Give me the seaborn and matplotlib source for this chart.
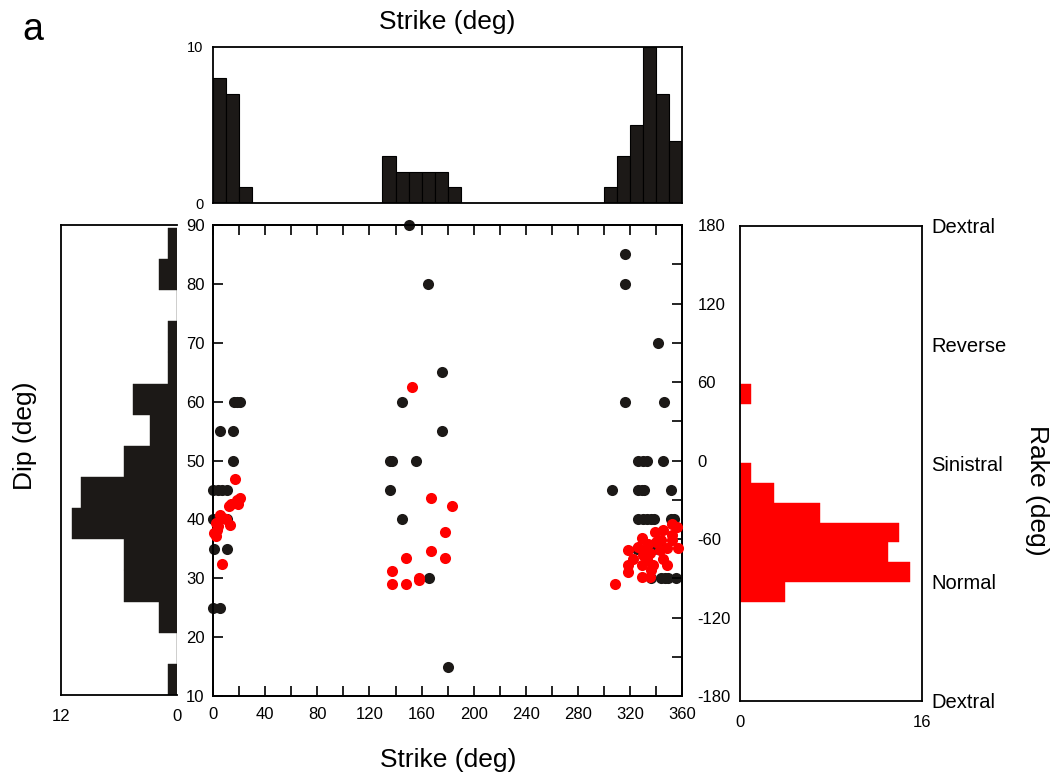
import numpy as np
import matplotlib
matplotlib.use("Agg")
import matplotlib.pyplot as plt
import seaborn as sns
from matplotlib.ticker import MultipleLocator

sns.set_theme(style="white")
plt.rcParams['font.family'] = ['Liberation Sans', 'DejaVu Sans']
plt.rcParams['axes.edgecolor'] = 'black'
plt.rcParams['axes.linewidth'] = 1.3
plt.rcParams['text.color'] = 'black'
plt.rcParams['xtick.color'] = 'black'
plt.rcParams['ytick.color'] = 'black'
plt.rcParams['axes.labelcolor'] = 'black'
plt.rcParams['axes.unicode_minus'] = False

# ---------------- data ----------------
# black points: dip vs strike
dip_strike = [16, 18, 21, 5, 15, 15, 0, 3.5, 7, 10.5, 0, 11, 1, 10.5, 0, 5,
              150, 165, 175.5, 145, 175.5, 135.5, 155.5, 137, 135.5, 145, 165.5, 180.5,
              316, 316, 341, 316, 346,
              326, 330, 333, 345,
              306, 326, 329, 331, 351,
              326, 330, 333, 336, 338, 351, 354,
              325, 333, 338, 342,
              336, 344, 347, 349, 355]
dip = [60, 60, 60, 55, 55, 50, 45, 45, 45, 45, 40, 40, 35, 35, 25, 25,
       90, 80, 65, 60, 55, 50, 50, 50, 45, 40, 30, 15,
       85, 80, 70, 60, 60,
       50, 50, 50, 50,
       45, 45, 45, 45, 45,
       40, 40, 40, 40, 40, 40, 40,
       35, 35, 35, 35,
       30, 30, 30, 30, 30]

# red points: rake vs strike
rake_strike = [17, 21, 18, 14, 12, 8, 5, 13, 2, 3, 2, 7, 19, 1, 4, 10,
               153, 167.5, 183, 178, 167.5, 178, 148, 137.5, 137.5, 148, 158, 158,
               352, 345, 339, 356, 329, 344, 352, 334, 318.5, 332.5, 348, 357,
               335, 330, 318.5, 329, 337.5, 348, 318.5, 329, 335, 308, 343, 352,
               333, 340, 322, 345, 336, 326]
rake = [-14, -29, -30, -33, -35, -44, -42, -49, -48, -53, -58, -79, -33, -55, -50, -45,
        56, -29, -34.5, -54.5, -69, -74.5, -74.5, -84.5, -94.5, -94.5, -89.5, -91,
        -48.5, -53, -54.5, -50.5, -59.5, -61, -61, -63.5, -68.5, -68.5, -67, -67,
        -71, -72, -80, -80, -80, -80, -85, -89, -89, -94.5, -68.5, -57,
        -75, -62, -75, -75, -84, -66]

# histogram of strike (top)
strike_edges = list(range(0, 370, 10))
strike_counts = [8, 7, 1, 0, 0, 0, 0, 0, 0, 0, 0, 0, 0, 3, 2, 2, 2, 2, 1,
                 0, 0, 0, 0, 0, 0, 0, 0, 0, 0, 0, 1, 3, 5, 10, 7, 4]

# histogram of dip (left), bins bottom -> top
dip_edges = [10.0, 15.3, 20.6, 25.9, 31.2, 36.5, 41.8, 47.1, 52.4, 57.7,
             63.0, 68.3, 73.6, 78.9, 84.2, 89.5]
dip_counts = [0.93, 0, 1.87, 5.43, 5.43, 10.83, 9.97, 5.43, 2.77, 4.5,
              0.93, 0.93, 0, 1.87, 0.93]

# histogram of rake (right)
rake_edges = list(range(-180, 195, 15))
rake_counts = [0, 0, 0, 0, 0, 4, 15, 13, 14, 7, 3, 1, 0, 0, 0, 1,
               0, 0, 0, 0, 0, 0, 0, 0]

rake_names = ["Dextral", "Reverse", "Sinistral", "Normal", "Dextral"]
rake_name_pos = [180, 90, 0, -90, -180]

BLACK = '#1c1917'
RED = '#ff0000'

# ---------------- figure ----------------
fig = plt.figure(figsize=(10.5, 7.79), dpi=100)

ax = fig.add_axes([0.2029, 0.1065, 0.4469, 0.6046])
ax_top = fig.add_axes([0.2029, 0.7394, 0.4469, 0.2003])
ax_left = fig.add_axes([0.0581, 0.1078, 0.1102, 0.6034])
ax_right = fig.add_axes([0.7048, 0.1005, 0.1730, 0.6098])

# main scatter
sns.scatterplot(x=dip_strike, y=dip, ax=ax, color=BLACK, s=64, linewidth=0,
                zorder=3, clip_on=False)
ax.set_xlim(0, 360)
ax.set_ylim(10, 90)
ax.xaxis.set_major_locator(MultipleLocator(40))
ax.xaxis.set_minor_locator(MultipleLocator(20))
ax.yaxis.set_major_locator(MultipleLocator(10))
ax.tick_params(axis='both', which='both', direction='in', length=7, width=1.2,
               colors='black', labelsize=12)
ax.tick_params(axis='x', which='both', top=True, bottom=True, pad=8)
ax.tick_params(axis='y', which='both', left=True, right=False, pad=6)
ax.set_xlabel('')
ax.set_ylabel('')

ax2 = ax.twinx()
sns.scatterplot(x=rake_strike, y=rake, ax=ax2, color=RED, s=64, linewidth=0,
                zorder=4, clip_on=False)
ax2.set_ylim(-180, 180)
ax2.set_xlim(0, 360)
ax2.yaxis.set_major_locator(MultipleLocator(60))
ax2.yaxis.set_minor_locator(MultipleLocator(30))
ax2.tick_params(axis='y', which='both', direction='in', length=7, width=1.2,
                right=True, left=False, labelsize=12, pad=11, colors='black')
ax2.set_ylabel('')
ax2.set_xlabel('')
ax2.grid(False)
ax.grid(False)

# top histogram (strike)
strike_centers = [(a + b) / 2 for a, b in zip(strike_edges[:-1], strike_edges[1:])]
sns.histplot(x=strike_centers, weights=strike_counts, bins=strike_edges, ax=ax_top,
             color=BLACK, edgecolor='#000000', linewidth=0.8, alpha=1)
ax_top.set_xlim(0, 360)
ax_top.set_ylim(0, 10)
ax_top.set_yticks([0, 10])
ax_top.set_xticks([])
ax_top.tick_params(axis='y', length=0, labelsize=10.5, pad=7)
ax_top.set_ylabel('')
ax_top.set_xlabel('')

# left histogram (dip)
dip_centers = [(a + b) / 2 for a, b in zip(dip_edges[:-1], dip_edges[1:])]
sns.histplot(y=dip_centers, weights=dip_counts, bins=dip_edges, ax=ax_left,
             color=BLACK, edgecolor=BLACK, linewidth=0.3, alpha=1)
ax_left.set_xlim(12, 0)
ax_left.set_ylim(10, 90)
ax_left.set_xticks([12, 0])
ax_left.set_yticks([])
ax_left.tick_params(axis='x', length=0, labelsize=12, pad=10)
ax_left.spines['right'].set_visible(False)
ax_left.set_xlabel('')
ax_left.set_ylabel('')

# right histogram (rake)
rake_centers = [(a + b) / 2 for a, b in zip(rake_edges[:-1], rake_edges[1:])]
sns.histplot(y=rake_centers, weights=rake_counts, bins=rake_edges, ax=ax_right,
             color=RED, edgecolor=RED, linewidth=0.3, alpha=1)
ax_right.set_xlim(0, 16)
ax_right.set_ylim(-180, 180)
ax_right.set_xticks([0, 16])
ax_right.yaxis.tick_right()
ax_right.set_yticks(rake_name_pos)
ax_right.set_yticklabels(rake_names)
ax_right.tick_params(axis='y', length=0, labelsize=14.5, pad=7)
ax_right.tick_params(axis='x', length=0, labelsize=12, pad=10)
ax_right.set_xlabel('')
ax_right.set_ylabel('')

# labels
fig.text(0.4267, 0.024, 'Strike (deg)', ha='center', va='center', fontsize=19)
fig.text(0.4257, 0.972, 'Strike (deg)', ha='center', va='center', fontsize=19)
fig.text(0.024, 0.44, 'Dip (deg)', ha='center', va='center', rotation=90, fontsize=19)
fig.text(0.988, 0.37, 'Rake (deg)', ha='center', va='center', rotation=270, fontsize=19)
fig.text(0.021, 0.962, 'a', ha='left', va='center', fontsize=27)

fig.savefig('out.png', dpi=100)
